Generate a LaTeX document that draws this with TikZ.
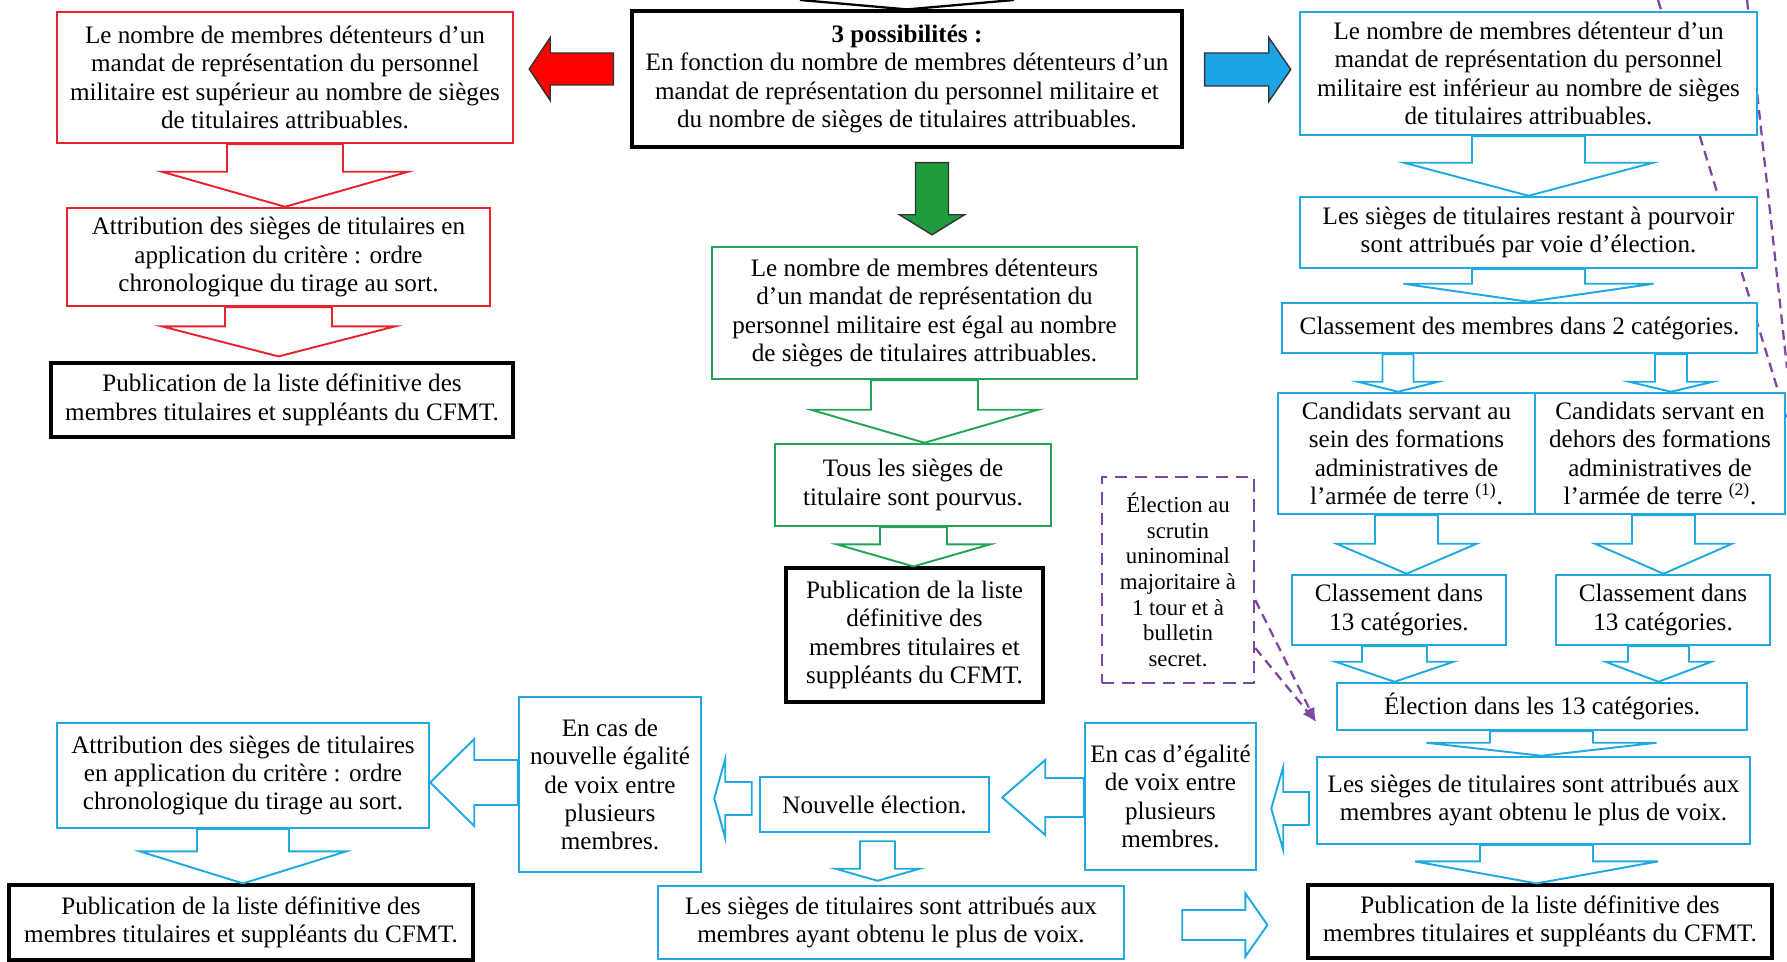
\documentclass[tikz,border=0pt]{standalone}
\usepackage{fontspec}
\setmainfont{Liberation Serif}
\usetikzlibrary{calc,arrows.meta}

\definecolor{redline}{RGB}{232,35,45}
\definecolor{greenline}{RGB}{35,165,85}
\definecolor{blueline}{RGB}{30,170,225}
\definecolor{purpleline}{RGB}{125,70,160}
\definecolor{bluefillc}{RGB}{25,165,230}
\definecolor{greenfillc}{RGB}{30,155,60}

% block arrows: style, from, to, axis, shaft half, head half, head length, gap from, gap to
\newcommand\arrowdown[9]{%
  \draw[#1] ($(#4-#5,0 |- #2.south)+(0,#8)$) -- ($(#4-#5,0 |- #3.north)+(0,-#7-#9)$)
    -- ($(#4-#6,0 |- #3.north)+(0,-#7-#9)$) -- ($(#4,0 |- #3.north)+(0,-#9)$)
    -- ($(#4+#6,0 |- #3.north)+(0,-#7-#9)$) -- ($(#4+#5,0 |- #3.north)+(0,-#7-#9)$)
    -- ($(#4+#5,0 |- #2.south)+(0,#8)$) -- cycle;}
\newcommand\arrowleft[9]{%
  \draw[#1] ($(#2.west |- 0,#4-#5)+(-#8,0)$) -- ($(#3.east |- 0,#4-#5)+(#7+#9,0)$)
    -- ($(#3.east |- 0,#4-#6)+(#7+#9,0)$) -- ($(#3.east |- 0,#4)+(#9,0)$)
    -- ($(#3.east |- 0,#4+#6)+(#7+#9,0)$) -- ($(#3.east |- 0,#4+#5)+(#7+#9,0)$)
    -- ($(#2.west |- 0,#4+#5)+(-#8,0)$) -- cycle;}
\newcommand\arrowright[9]{%
  \draw[#1] ($(#2.east |- 0,#4-#5)+(#8,0)$) -- ($(#3.west |- 0,#4-#5)+(-#7-#9,0)$)
    -- ($(#3.west |- 0,#4-#6)+(-#7-#9,0)$) -- ($(#3.west |- 0,#4)+(-#9,0)$)
    -- ($(#3.west |- 0,#4+#6)+(-#7-#9,0)$) -- ($(#3.west |- 0,#4+#5)+(-#7-#9,0)$)
    -- ($(#2.east |- 0,#4+#5)+(#8,0)$) -- cycle;}

\begin{document}
\begin{tikzpicture}[
  x=0.02cm, y=-0.02cm,
  every node/.style={draw, fill=white, align=center, inner sep=1pt,
    font=\fontsize{14.3}{16.2}\selectfont},
  wh/.style 2 args={minimum width=#1*0.02cm, minimum height=#2*0.02cm},
  redbox/.style={draw=redline, line width=1.4pt},
  greenbox/.style={draw=greenline, line width=1.4pt},
  bluebox/.style={draw=blueline, line width=1.4pt},
  blackbox/.style={draw=black, line width=1.8pt},
  votebox/.style={draw=purpleline, line width=1.4pt, dash pattern=on 7pt off 4.5pt,
    font=\fontsize{13}{14.6}\selectfont},
  redarrow/.style={draw=redline, line width=1.1pt, line join=miter},
  greenarrow/.style={draw=greenline, line width=1.1pt, line join=miter},
  bluearrow/.style={draw=blueline, line width=1.1pt, line join=miter},
  redfill/.style={draw=black!80, fill=red, line width=0.8pt},
  greenfill/.style={draw=black!80, fill=greenfillc, line width=0.8pt},
  bluefill/.style={draw=black!80, fill=bluefillc, line width=0.8pt},
  dashlink/.style={draw=purpleline, line width=1.3pt, dash pattern=on 5.5pt off 3.5pt}
]
\useasboundingbox (0,0) rectangle (1787,962);

% links coming from above, behind the boxes
\coordinate (linka1) at (1658,0);
\coordinate (linka2) at (1787,420);
\coordinate (linkb1) at (1747,0);
\coordinate (linkb2) at (1787,368);
\draw[dashlink] (linka1) -- (linka2);
\draw[dashlink] (linkb1) -- (linkb2);

\node[blackbox, wh={550}{136}] (top) at (907,79) {\textbf{3 possibilités :}\\En fonction du nombre de membres détenteurs d’un\\mandat de représentation du personnel militaire et\\du nombre de sièges de titulaires attribuables.};

% superieur
\node[redbox, wh={456}{131}] (sup) at (285,77.5) {Le nombre de membres détenteurs d’un\\mandat de représentation du personnel\\militaire est supérieur au nombre de sièges\\de titulaires attribuables.};
\node[redbox, wh={423}{98}] (suptirage) at (278.5,257) {Attribution des sièges de titulaires en\\application du critère : ordre\\chronologique du tirage au sort.};
\node[blackbox, wh={462}{74}] (suppub) at (282,400) {Publication de la liste définitive des\\membres titulaires et suppléants du CFMT.};

% egal
\node[greenbox, wh={425}{132}] (egal) at (924.5,313) {Le nombre de membres détenteurs\\d’un mandat de représentation du\\personnel militaire est égal au nombre\\de sièges de titulaires attribuables.};
\node[greenbox, wh={276}{82}] (pourvu) at (913,485) {Tous les sièges de\\titulaire sont pourvus.};
\node[blackbox, wh={257}{134}] (egalpub) at (914.5,635) {Publication de la liste\\définitive des\\membres titulaires et\\suppléants du CFMT.};

% inferieur
\node[bluebox, wh={457}{123}] (inf) at (1528.5,73.5) {Le nombre de membres détenteur d’un\\mandat de représentation du personnel\\militaire est inférieur au nombre de sièges\\de titulaires attribuables.};
\node[bluebox, wh={457}{71}] (reste) at (1528.5,232.5) {Les sièges de titulaires restant à pourvoir\\sont attribués par voie d’élection.};
\node[bluebox, wh={475}{50}] (classe) at (1519.5,328) {Classement des membres dans 2 catégories.};
\node[bluebox, wh={257}{121}] (ausein) at (1406.5,453.5) {Candidats servant au\\sein des formations\\administratives de\\l'armée de terre \textsuperscript{(1)}.};
\node[bluebox, wh={250}{121}] (dehors) at (1660,453.5) {Candidats servant en\\dehors des formations\\administratives de\\l'armée de terre \textsuperscript{(2)}.};
\node[bluebox, wh={214}{70}] (cata) at (1399,610) {Classement dans\\13 catégories.};
\node[bluebox, wh={214}{70}] (catb) at (1663,610) {Classement dans\\13 catégories.};
\node[bluebox, wh={410}{47}] (elec) at (1542,706.5) {Élection dans les 13 catégories.};
\node[bluebox, wh={433}{87}] (voix) at (1533.5,800.5) {Les sièges de titulaires sont attribués aux\\membres ayant obtenu le plus de voix.};
\node[blackbox, wh={464}{73}] (infpub) at (1540,921.5) {Publication de la liste définitive des\\membres titulaires et suppléants du CFMT.};
\node[votebox, wh={152}{206}] (scrutin) at (1178,580) {Élection au\\scrutin\\uninominal\\majoritaire à\\1 tour et à\\bulletin\\secret.};

% egalite de voix
\node[bluebox, wh={171}{147}] (egalite) at (1170.5,796.5) {En cas d’égalité\\de voix entre\\plusieurs\\membres.};
\node[bluebox, wh={229}{55}] (nouvelle) at (874.5,804.5) {Nouvelle élection.};
\node[bluebox, wh={466}{73}] (voixbis) at (891,922.5) {Les sièges de titulaires sont attribués aux\\membres ayant obtenu le plus de voix.};
\node[bluebox, wh={182}{175}] (egalitebis) at (610,784.5) {En cas de\\nouvelle égalité\\de voix entre\\plusieurs\\membres.};
\node[bluebox, wh={372}{105}] (tirage) at (243,775.5) {Attribution des sièges de titulaires\\en application du critère : ordre\\chronologique du tirage au sort.};
\node[blackbox, wh={464}{75}] (tiragepub) at (241,922.5) {Publication de la liste définitive des\\membres titulaires et suppléants du CFMT.};

% arrows
\coordinate (topin1) at (800,0);
\coordinate (topin2) at (1014,0);
\draw[line width=1.3pt] (topin1) -- (top.north) -- (topin2);

\arrowleft{redfill}{top}{sup}{69}{16}{31.5}{21}{17}{15}
\arrowright{bluefill}{top}{inf}{69.5}{16.5}{32}{22}{21}{8}
\arrowdown{greenfill}{top}{egal}{932}{16.5}{32.5}{20}{14}{11}

\arrowdown{redarrow}{sup}{suptirage}{285}{58}{123}{35}{0}{0}
\arrowdown{redarrow}{suptirage}{suppub}{278.5}{53.5}{116.5}{30}{0}{5}
\arrowdown{greenarrow}{egal}{pourvu}{924.5}{53.5}{113.5}{33}{0}{0}
\arrowdown{greenarrow}{pourvu}{egalpub}{913.5}{33.5}{76.5}{22}{0}{0}

\arrowdown{bluearrow}{inf}{reste}{1528.5}{56.5}{124.5}{33}{0}{0}
\arrowdown{bluearrow}{reste}{classe}{1528.5}{56.5}{125}{18}{0}{0}
\arrowdown{bluearrow}{classe}{ausein}{1398}{15.5}{40}{10}{0}{0}
\arrowdown{bluearrow}{classe}{dehors}{1671}{16}{42}{10}{0}{0}
\arrowdown{bluearrow}{ausein}{cata}{1406.5}{31.5}{70}{30}{0}{0}
\arrowdown{bluearrow}{dehors}{catb}{1663.5}{31.5}{68.5}{30}{0}{0}
\arrowdown{bluearrow}{cata}{elec}{1394.5}{32.5}{59}{20}{0}{0}
\arrowdown{bluearrow}{catb}{elec}{1658.5}{30.5}{53}{20}{0}{0}
\arrowdown{bluearrow}{elec}{voix}{1541.5}{51.5}{115}{13}{0}{0}
\arrowdown{bluearrow}{voix}{infpub}{1536.5}{56.5}{121.5}{22}{0}{0}

\arrowleft{bluearrow}{voix}{egalite}{808.5}{16.5}{41.5}{12}{7}{14}
\arrowleft{bluearrow}{egalite}{nouvelle}{797.5}{19.5}{37.5}{43}{0}{12}
\arrowleft{bluearrow}{nouvelle}{egalitebis}{798.5}{16.5}{39.5}{11}{7}{12}
\arrowleft{bluearrow}{egalitebis}{tirage}{782.5}{22.5}{43.5}{44}{0}{0}
\arrowdown{bluearrow}{nouvelle}{voixbis}{877.5}{17.5}{42}{12}{8}{4}
\arrowdown{bluearrow}{tirage}{tiragepub}{243}{46}{103}{32}{0}{0}
\arrowright{bluearrow}{voixbis}{infpub}{925}{15}{31.5}{22}{57}{39}

% scrutin to election
\coordinate (votetip) at (1316,722);
\draw[dashlink, -{Latex[length=8pt,width=6pt]}] (scrutin.east |- 0,600) -- (votetip);
\draw[dashlink, -{Latex[length=8pt,width=6pt]}] (scrutin.east |- 0,648) -- (votetip);
\end{tikzpicture}
\end{document}
